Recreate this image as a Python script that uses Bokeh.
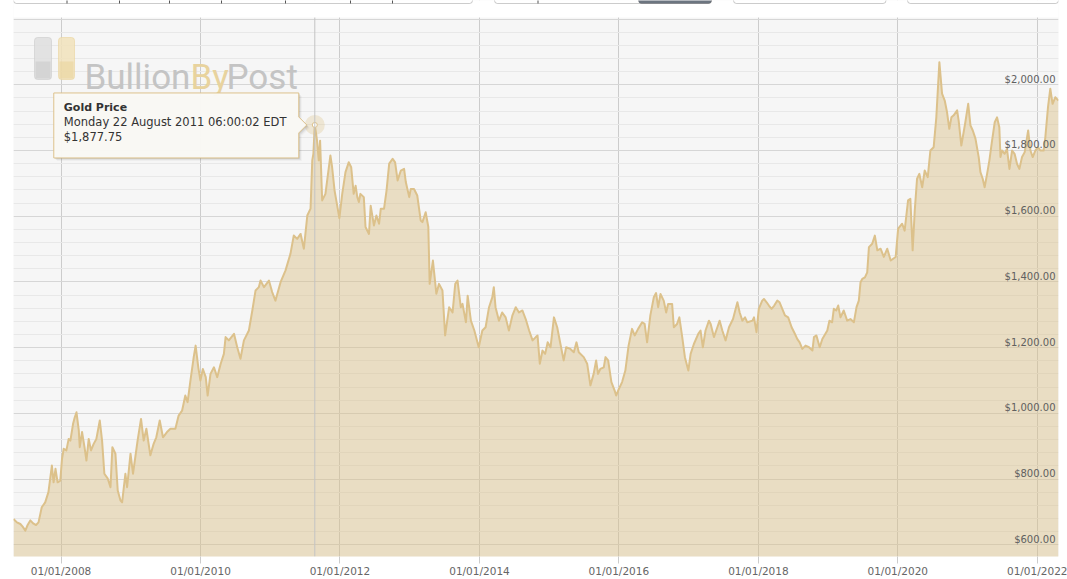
import pandas as pd
from bokeh.plotting import figure
from bokeh.models import (ColumnDataSource, FixedTicker, DatetimeTickFormatter, Grid,
                          Span, Label, BoxAnnotation, Range1d)
from bokeh.core.properties import value
from bokeh.embed import file_html
from bokeh.resources import INLINE

# ---------------- data ----------------
dates_2007 = ["2007-04-27", "2007-05-15", "2007-06-02", "2007-06-14", "2007-06-28", "2007-07-10",
              "2007-07-24", "2007-08-10", "2007-08-23", "2007-09-05", "2007-09-22", "2007-10-10",
              "2007-10-27", "2007-11-14", "2007-11-23", "2007-12-03", "2007-12-14", "2007-12-28"]
prices_2007 = [678, 668, 663, 655, 643, 660, 674, 664, 660, 668, 714, 729, 760, 841, 790, 831, 790, 795]

dates_2008 = ["2008-01-06", "2008-01-15", "2008-01-29", "2008-02-10", "2008-02-19", "2008-03-04",
              "2008-03-13", "2008-03-22", "2008-04-03", "2008-04-08", "2008-04-20", "2008-05-03",
              "2008-05-13", "2008-05-25", "2008-06-06", "2008-06-20", "2008-07-04", "2008-07-22",
              "2008-08-03", "2008-08-15", "2008-09-02", "2008-09-16", "2008-09-26", "2008-10-12",
              "2008-10-24", "2008-11-07", "2008-11-16", "2008-12-03", "2008-12-12", "2008-12-30"]
prices_2008 = [861, 892, 887, 922, 917, 968, 988, 1003, 948, 897, 943, 897, 856, 922, 887, 907, 922, 978,
               917, 816, 801, 775, 897, 877, 765, 735, 729, 816, 775, 877]

dates_2009 = ["2009-01-12", "2009-02-05", "2009-02-23", "2009-03-09", "2009-03-23", "2009-04-13",
              "2009-04-30", "2009-05-14", "2009-06-01", "2009-06-18", "2009-07-09", "2009-07-27",
              "2009-08-22", "2009-09-08", "2009-09-26", "2009-10-13", "2009-10-25", "2009-11-09",
              "2009-11-26", "2009-12-06", "2009-12-20", "2009-12-31"]
prices_2009 = [816, 917, 983, 917, 953, 872, 907, 927, 978, 927, 943, 953, 953, 993, 1008, 1054, 1034,
               1100, 1171, 1206, 1140, 1100]

dates_2010 = ["2010-01-13", "2010-01-28", "2010-02-07", "2010-02-22", "2010-03-12", "2010-03-29",
              "2010-04-16", "2010-05-03", "2010-05-12", "2010-05-29", "2010-06-25", "2010-07-12",
              "2010-07-29", "2010-08-16", "2010-09-11", "2010-09-29", "2010-10-16", "2010-11-02",
              "2010-11-11", "2010-11-29", "2010-12-25"]
prices_2010 = [1135, 1110, 1054, 1120, 1140, 1110, 1150, 1181, 1232, 1222, 1242, 1201, 1166, 1222, 1252,
               1313, 1374, 1384, 1404, 1384, 1404]

dates_2011 = ["2011-01-11", "2011-01-28", "2011-02-24", "2011-03-22", "2011-04-17", "2011-05-04",
              "2011-05-22", "2011-06-09", "2011-06-26", "2011-07-14", "2011-07-31", "2011-08-09",
              "2011-08-15", "2011-08-22", "2011-08-29", "2011-09-03", "2011-09-12", "2011-09-19",
              "2011-09-30", "2011-10-17", "2011-11-12", "2011-11-21", "2011-12-04", "2011-12-29"]
prices_2011 = [1369, 1343, 1399, 1435, 1486, 1541, 1531, 1546, 1501, 1602, 1623, 1770, 1790, 1877.75,
               1851, 1830, 1770, 1830, 1648, 1668, 1785, 1749, 1678, 1594]

dates_2012 = ["2012-01-13", "2012-01-30", "2012-02-16", "2012-02-29", "2012-03-13", "2012-03-23",
              "2012-04-01", "2012-04-09", "2012-04-17", "2012-05-05", "2012-05-14", "2012-06-01",
              "2012-06-10", "2012-06-27", "2012-07-10", "2012-07-24", "2012-08-02", "2012-08-19",
              "2012-09-01", "2012-09-15", "2012-10-03", "2012-10-16", "2012-10-29", "2012-11-15",
              "2012-12-02", "2012-12-11", "2012-12-29"]
prices_2012 = [1668, 1734, 1764, 1749, 1668, 1693, 1658, 1643, 1668, 1658, 1567, 1546, 1632, 1572, 1602,
               1577, 1623, 1623, 1678, 1760, 1775, 1764, 1709, 1739, 1744, 1704, 1658]

dates_2013 = ["2013-01-06", "2013-01-23", "2013-02-09", "2013-02-27", "2013-03-08", "2013-03-25",
              "2013-04-08", "2013-04-15", "2013-05-02", "2013-05-20", "2013-06-03", "2013-06-21",
              "2013-07-05", "2013-07-26", "2013-08-13", "2013-08-27", "2013-09-08", "2013-09-25",
              "2013-10-04", "2013-10-22", "2013-10-31", "2013-11-17", "2013-12-05", "2013-12-28"]
prices_2013 = [1683, 1683, 1663, 1587, 1582, 1612, 1567, 1394, 1465, 1364, 1394, 1374, 1237, 1323, 1307,
               1394, 1404, 1323, 1333, 1277, 1358, 1282, 1252, 1201]

dates_2014 = ["2014-01-16", "2014-02-02", "2014-02-20", "2014-03-09", "2014-03-17", "2014-03-26",
              "2014-04-13", "2014-04-30", "2014-05-18", "2014-06-04", "2014-06-22", "2014-07-10",
              "2014-07-27", "2014-08-14", "2014-08-31", "2014-09-18", "2014-10-06", "2014-10-23",
              "2014-11-01", "2014-11-13", "2014-11-27", "2014-12-11", "2014-12-24"]
prices_2014 = [1252, 1262, 1323, 1353, 1384, 1323, 1282, 1307, 1292, 1252, 1297, 1323, 1307, 1313, 1287,
               1252, 1222, 1232, 1237, 1151, 1191, 1181, 1216]

dates_2015 = ["2015-01-08", "2015-01-26", "2015-02-12", "2015-03-01", "2015-03-18", "2015-03-31",
              "2015-04-22", "2015-05-10", "2015-05-24", "2015-06-05", "2015-07-01", "2015-07-19",
              "2015-08-05", "2015-08-22", "2015-09-04", "2015-09-14", "2015-09-26", "2015-10-14",
              "2015-10-23", "2015-11-06", "2015-11-23", "2015-12-10", "2015-12-18"]
prices_2015 = [1201, 1292, 1262, 1211, 1161, 1201, 1196, 1186, 1216, 1186, 1171, 1151, 1085, 1120, 1161,
               1120, 1135, 1140, 1171, 1161, 1095, 1069, 1054]

dates_2016 = ["2016-01-01", "2016-01-18", "2016-02-04", "2016-02-21", "2016-03-10", "2016-03-24",
              "2016-04-11", "2016-05-02", "2016-05-15", "2016-05-28", "2016-06-14", "2016-07-02",
              "2016-07-14", "2016-07-25", "2016-08-06", "2016-08-23", "2016-09-05", "2016-09-15",
              "2016-10-06", "2016-10-15", "2016-11-01", "2016-11-13", "2016-11-28", "2016-12-12",
              "2016-12-30"]
prices_2016 = [1074, 1095, 1130, 1206, 1257, 1237, 1257, 1277, 1272, 1216, 1298, 1353, 1366, 1323, 1363,
               1343, 1307, 1333, 1333, 1262, 1272, 1292, 1232, 1171, 1130]

dates_2017 = ["2017-01-11", "2017-01-28", "2017-02-20", "2017-03-04", "2017-03-16", "2017-03-30",
              "2017-04-17", "2017-04-26", "2017-05-13", "2017-05-31", "2017-06-12", "2017-06-26",
              "2017-07-13", "2017-07-31", "2017-08-21", "2017-09-04", "2017-09-13", "2017-09-25",
              "2017-10-09", "2017-10-23", "2017-11-04", "2017-12-01", "2017-12-09", "2017-12-22"]
prices_2017 = [1181, 1211, 1242, 1252, 1201, 1252, 1282, 1272, 1232, 1262, 1282, 1252, 1222, 1262, 1287,
               1318, 1338, 1307, 1282, 1292, 1277, 1282, 1292, 1247]

dates_2018 = ["2018-01-03", "2018-01-21", "2018-01-30", "2018-02-13", "2018-02-25", "2018-03-11",
              "2018-03-25", "2018-04-10", "2018-04-22", "2018-05-06", "2018-05-20", "2018-06-06",
              "2018-06-24", "2018-07-11", "2018-07-24", "2018-08-05", "2018-08-19", "2018-09-05",
              "2018-09-23", "2018-10-11", "2018-10-19", "2018-11-01", "2018-11-18", "2018-12-02",
              "2018-12-28"]
prices_2018 = [1318, 1343, 1348, 1338, 1328, 1318, 1328, 1343, 1338, 1318, 1298, 1292, 1262, 1242, 1226,
               1216, 1196, 1206, 1201, 1191, 1232, 1237, 1201, 1226, 1252]

dates_2019 = ["2019-01-08", "2019-01-22", "2019-01-31", "2019-02-13", "2019-02-23", "2019-03-07",
              "2019-03-24", "2019-04-11", "2019-04-28", "2019-05-16", "2019-05-30", "2019-06-11",
              "2019-06-20", "2019-06-29", "2019-07-13", "2019-07-25", "2019-08-03", "2019-08-20",
              "2019-09-03", "2019-09-16", "2019-10-03", "2019-10-20", "2019-11-07", "2019-11-25",
              "2019-12-21"]
prices_2019 = [1282, 1277, 1318, 1313, 1328, 1292, 1313, 1282, 1287, 1277, 1323, 1343, 1399, 1409, 1414,
               1429, 1506, 1516, 1541, 1496, 1501, 1476, 1501, 1465, 1476]

dates_2020 = ["2020-01-03", "2020-01-24", "2020-02-06", "2020-02-24", "2020-03-07", "2020-03-19",
              "2020-03-30", "2020-04-11", "2020-04-23", "2020-05-08", "2020-05-21", "2020-06-06",
              "2020-06-20", "2020-07-07", "2020-07-21", "2020-08-06", "2020-08-20", "2020-09-03",
              "2020-09-15", "2020-09-27", "2020-10-08", "2020-10-20", "2020-11-07", "2020-11-15",
              "2020-11-29", "2020-12-20"]
prices_2020 = [1562, 1577, 1556, 1648, 1653, 1496, 1617, 1714, 1729, 1688, 1739, 1719, 1800, 1810, 1901,
               2069, 1973, 1952, 1917, 1866, 1901, 1907, 1922, 1891, 1815, 1886]

dates_2021 = ["2021-01-04", "2021-01-16", "2021-01-28", "2021-02-11", "2021-02-28", "2021-03-09",
              "2021-03-21", "2021-03-31", "2021-04-13", "2021-04-25", "2021-05-09", "2021-05-23",
              "2021-06-04", "2021-06-16", "2021-06-22", "2021-06-30", "2021-07-14", "2021-07-26",
              "2021-08-08", "2021-08-22", "2021-09-04", "2021-09-17", "2021-09-29", "2021-10-13",
              "2021-10-27", "2021-11-14", "2021-11-26", "2021-12-08", "2021-12-22"]
prices_2021 = [1942, 1876, 1861, 1836, 1780, 1734, 1714, 1688, 1729, 1770, 1830, 1886, 1901, 1871, 1780,
               1800, 1790, 1805, 1744, 1800, 1790, 1759, 1744, 1780, 1795, 1861, 1800, 1780, 1800]

dates_2022 = ["2022-01-05", "2022-01-17", "2022-02-03", "2022-02-12", "2022-02-26", "2022-03-10",
              "2022-03-22", "2022-04-05", "2022-04-22"]
prices_2022 = [1810, 1800, 1800, 1840, 1932, 1988, 1942, 1962, 1952]

series_name = "Gold Price"
highlight_date = "2011-08-22 06:00:02"
highlight_price = 1877.75
highlight_label = "Monday 22 August 2011 06:00:02 EDT"
highlight_value = "$1,877.75"

x_tick_dates = ["2008-01-01", "2010-01-01", "2012-01-01", "2014-01-01",
                "2016-01-01", "2018-01-01", "2020-01-01", "2022-01-01"]
x_tick_labels = ["01/01/2008", "01/01/2010", "01/01/2012", "01/01/2014",
                 "01/01/2016", "01/01/2018", "01/01/2020", "01/01/2022"]
y_ticks = [600, 800, 1000, 1200, 1400, 1600, 1800, 2000]
y_tick_labels = ["$600.00", "$800.00", "$1,000.00", "$1,200.00",
                 "$1,400.00", "$1,600.00", "$1,800.00", "$2,000.00"]
y_grid_major = [600, 800, 1000, 1200, 1400, 1600, 1800, 2000, 2200]

# ---------------- assemble ----------------
all_dates = (dates_2007 + dates_2008 + dates_2009 + dates_2010 + dates_2011 + dates_2012 +
             dates_2013 + dates_2014 + dates_2015 + dates_2016 + dates_2017 + dates_2018 +
             dates_2019 + dates_2020 + dates_2021 + dates_2022)
all_prices = (prices_2007 + prices_2008 + prices_2009 + prices_2010 + prices_2011 + prices_2012 +
              prices_2013 + prices_2014 + prices_2015 + prices_2016 + prices_2017 + prices_2018 +
              prices_2019 + prices_2020 + prices_2021 + prices_2022)

src = ColumnDataSource(dict(date=pd.to_datetime(all_dates), price=all_prices))


def to_ms(s):
    return pd.Timestamp(s).value / 1e6


W, H = 1067, 579
# frame spans canvas x 13..1058 and y 0..556; the chart panel itself starts at y=17
FL, FT, FW, FH = 13, 0, 1045, 556
PANEL_TOP = 17
XS, XE = to_ms("2007-04-27"), to_ms("2022-04-22")
YS, YE = 564.1, 2256.6


def xpx(ms):
    return FL + (ms - XS) / (XE - XS) * FW


def ypx(v):
    return FT + (YE - v) / (YE - YS) * FH


def xd(px):
    return XS + (px - FL) / FW * (XE - XS)


def yd(py):
    return YE - (py - FT) / FH * (YE - YS)


p = figure(width=W, height=H, x_axis_type="datetime",
           x_range=Range1d(XS, XE), y_range=Range1d(YS, YE),
           output_backend="svg", toolbar_location=None, y_axis_location=None,
           min_border_left=FL, min_border_right=W - FL - FW, min_border_top=FT,
           min_border_bottom=H - FT - FH,
           background_fill_color="#f6f6f6", border_fill_color="white", outline_line_color=None)

p.grid.visible = False

GOLD_LINE = "#dcc18b"
GOLD_FILL = "#d9bf86"

# grids
tick_ms = [to_ms(d) for d in x_tick_dates]
p.add_layout(Grid(dimension=0, ticker=FixedTicker(ticks=tick_ms),
                  grid_line_color="#cccccc", grid_line_width=1))
minor_y = [v for v in range(560, 2201, 40) if v % 200 != 0]
p.add_layout(Grid(dimension=1, ticker=FixedTicker(ticks=y_grid_major, minor_ticks=minor_y),
                  grid_line_color="#d6d6d6", minor_grid_line_color="#e8e8e8"))

# x axis
ax = p.xaxis[0]
ax.ticker = FixedTicker(ticks=tick_ms)
fmt = "%d/%m/%Y"
ax.formatter = DatetimeTickFormatter(milliseconds=fmt, seconds=fmt, minsec=fmt, minutes=fmt,
                                     hourmin=fmt, hours=fmt, days=fmt, months=fmt, years=fmt)
ax.major_label_overrides = {t: lab for t, lab in zip(tick_ms, x_tick_labels)}
ax.axis_line_color = None
ax.major_tick_line_color = "#cccccc"
ax.major_tick_in = 0
ax.major_tick_out = 7
ax.minor_tick_line_color = None
ax.major_label_standoff = 1
ax.major_label_text_font = "DejaVu Sans"
ax.major_label_text_font_size = "10.5px"
ax.major_label_text_color = "#666666"

# logo watermark
logo_top, logo_bot = 37, 79
for l, r, c_top, c_bot in [(34, 51, "#dedede", "#cbcbcb"), (58, 74, "#f1e2bb", "#e9d39d")]:
    p.add_layout(BoxAnnotation(left=xd(l), right=xd(r), top=yd(logo_top), bottom=yd(logo_bot),
                               fill_color=c_top, fill_alpha=0.85, line_color=c_bot, line_alpha=0.6,
                               border_radius=3))
    p.add_layout(BoxAnnotation(left=xd(l + 1), right=xd(r - 1), top=yd(61), bottom=yd(logo_bot - 1),
                               fill_color=c_bot, fill_alpha=0.6, line_color=None))
for word, px0, col in [("Bullion", 84, "#c4c4c4"), ("By", 190, "#e8d39e"), ("Post", 226, "#c4c4c4")]:
    p.add_layout(Label(x=xd(px0), y=yd(77), text=word, text_align="left", text_baseline="alphabetic",
                       text_font="Roboto", text_font_size="35px", text_color=col))

# area + line
p.varea(x="date", y1=0, y2="price", source=src, fill_color=GOLD_FILL, fill_alpha=0.45)
p.line(x="date", y="price", source=src, line_color=GOLD_LINE, line_width=2, line_join="round")

# y labels inside the plot, right aligned
p.text(x=[XE] * len(y_ticks), y=y_ticks, text=y_tick_labels, text_align="right",
       text_baseline="bottom", x_offset=-3, text_font=value("DejaVu Sans"),
       text_font_size="10px", text_color="#606060")

# highlighted point + crosshair
h_ms = to_ms(highlight_date)
p.add_layout(Span(location=h_ms, dimension="height", line_color="#c4c4c4", line_width=1))
p.scatter(x=[h_ms], y=[highlight_price], size=20, fill_color=GOLD_FILL, fill_alpha=0.3, line_color=None)
p.scatter(x=[h_ms], y=[highlight_price], size=5, fill_color="white", line_color=GOLD_LINE, line_width=1)

# white page strip above the chart panel, with the range-selector buttons peeking in
p.add_layout(BoxAnnotation(left=xd(-20), right=xd(W + 20), top=yd(-20), bottom=yd(PANEL_TOP),
                           fill_color="white", fill_alpha=1, line_color=None, level="overlay"))
BTN_LINE = "#555555"
for l, r in [(13, 472), (494, 711), (733, 885.5), (907, 1058)]:
    p.add_layout(BoxAnnotation(left=xd(l), right=xd(r), top=yd(-30), bottom=yd(3),
                               fill_color="white", fill_alpha=1, line_color=BTN_LINE, line_width=1,
                               border_radius=3, level="overlay"))
p.add_layout(BoxAnnotation(left=xd(638), right=xd(711), top=yd(-30), bottom=yd(3),
                           fill_color="#6c7580", fill_alpha=1, line_color=BTN_LINE, line_width=1,
                           border_radius=3, level="overlay"))
for xdiv in [66.5, 119, 169, 221, 285, 350, 392, 537.5]:
    p.add_layout(BoxAnnotation(left=xd(xdiv - 0.5), right=xd(xdiv + 0.5), top=yd(-30), bottom=yd(3),
                               fill_color=BTN_LINE, fill_alpha=1, line_color=None, level="overlay"))

# tooltip (callout box anchored on the highlighted point)
hx, hy = xpx(h_ms), ypx(highlight_price)
L, R, T, B = hx - 261, hx - 16, hy - 32, hy + 33
poly = [(L, T), (R, T), (R, hy - 8), (hx - 8, hy), (R, hy + 8), (R, B), (L, B)]
for off, a in [(3, 0.03), (2, 0.06), (1, 0.09)]:
    r = p.patch(x=[xd(x + off) for x, _ in poly], y=[yd(y + off) for _, y in poly],
                fill_color="black", fill_alpha=a, line_color=None)
    r.level = "overlay"
r = p.patch(x=[xd(x) for x, _ in poly], y=[yd(y) for _, y in poly],
            fill_color="#fbfaf6", fill_alpha=0.96, line_color=GOLD_LINE, line_width=1)
r.level = "overlay"
for txt, dyy, style in [(series_name, -17.5, "bold"), (highlight_label, -2.5, "normal"),
                        (highlight_value, 12.5, "normal")]:
    t = p.text(x=[xd(hx - 251)], y=[yd(hy + dyy)], text=[txt], text_align="left",
               text_baseline="middle", text_font=value("DejaVu Sans"),
               text_font_size="11.5px" if style == "normal" else "11px",
               text_font_style=style, text_color="#333333")
    t.level = "overlay"

open("out.html", "w").write(file_html(p, INLINE))
